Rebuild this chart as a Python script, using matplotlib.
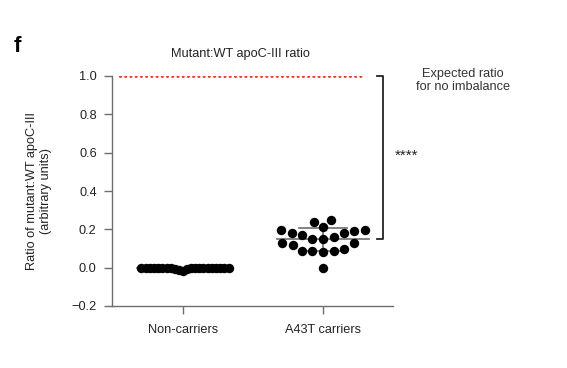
import numpy as np
import matplotlib
matplotlib.use("Agg")
import matplotlib.pyplot as plt

plt.rcParams['font.family'] = ['Liberation Sans', 'DejaVu Sans']

categories = ["Non-carriers", "A43T carriers"]
non_carriers = [0.0, 0.0, 0.0, 0.0, 0.0, 0.0, 0.0, 0.0, 0.0, 0.0, 0.0,
                0.0, 0.0, 0.0, 0.0, 0.0, -0.005, -0.008, -0.012, -0.015,
                0.0, 0.0]
a43t = [0.249, 0.237, 0.198, 0.19, 0.179, 0.158, 0.15, 0.15, 0.172, 0.179,
        0.198, 0.21, 0.127, 0.12, 0.089, 0.089, 0.08, 0.089, 0.10, 0.127, 0.0]
yticks = [-0.2, 0.0, 0.2, 0.4, 0.6, 0.8, 1.0]
expected_ratio = 1.0

FS = 9.2
fig = plt.figure(figsize=(5.67, 3.68), dpi=100)
ax = fig.add_axes([112/567, 1-306/368, (393-112)/567, (306-76)/368])
ax.set_xlim(-0.507, 1.5)
ax.set_ylim(-0.2, 1.0)

def swarm(values, center, d_px):
    vals = np.asarray(values, float)
    order = np.argsort(vals, kind="stable")
    ypx = ax.transData.transform(np.column_stack([np.zeros_like(vals), vals]))[:, 1]
    xscale = ax.transData.transform([[1, 0]])[0, 0] - ax.transData.transform([[0, 0]])[0, 0]
    placed = []
    xs = np.zeros_like(vals)
    for i in order:
        y = ypx[i]
        cands = [0.0]
        for (px, py) in placed:
            dy = abs(py - y)
            if dy < d_px:
                dx = np.sqrt(d_px**2 - dy**2)
                cands += [px + dx, px - dx]
        cands.sort(key=lambda c: (abs(c), c))
        for c in cands:
            ok = all((c - px)**2 + (y - py)**2 >= d_px**2 - 1e-6 for (px, py) in placed)
            if ok:
                break
        placed.append((c, y))
        xs[i] = center + c / xscale
    return xs

gray = "#6e6e6e"
for k, (vals, d) in enumerate([(non_carriers, 4.2), (a43t, 10.8)]):
    xs = swarm(vals, k, d)
    ax.scatter(xs, vals, s=46, color="black", zorder=3, linewidths=0)
    m = np.mean(vals)
    sd = np.std(vals, ddof=1)
    ax.plot([k - 0.33, k + 0.33], [m, m], color=gray, lw=1.2, zorder=2)
    if k == 1:
        ax.plot([k, k], [m - sd, m + sd], color=gray, lw=1.2, zorder=2)
        ax.plot([k - 0.17, k + 0.17], [m + sd, m + sd], color=gray, lw=1.2, zorder=2)
        ax.plot([k - 0.17, k + 0.17], [m - sd, m - sd], color=gray, lw=1.2, zorder=2)
        mean_a = m

ax.plot([-0.45, 1.286], [expected_ratio, expected_ratio], color="#e3402a",
        lw=2.2, linestyle=(0, (0.01, 1.7)), dash_capstyle="round", zorder=2)

# significance bracket
bx = 1.43
ax.plot([bx - 0.045, bx, bx, bx - 0.045], [expected_ratio, expected_ratio, mean_a, mean_a],
        color="#222222", lw=1.3, clip_on=False)
ax.text(1.6, 0.585, "****", ha="center", va="center", fontsize=11, color="#222222")
ax.text(2.0, 0.975, "Expected ratio\nfor no imbalance", ha="center", va="center",
        fontsize=FS, color="#333333", linespacing=1.15)

for s in ["top", "right"]:
    ax.spines[s].set_visible(False)
for s in ["left", "bottom"]:
    ax.spines[s].set_color(gray)
    ax.spines[s].set_linewidth(1.0)
ax.set_xticks([0, 1])
ax.set_xticklabels(categories, fontsize=FS, color="#222222")
ax.set_yticks(yticks)
ax.set_yticklabels([f"{t:.1f}".replace("-", "\u2212") for t in yticks], fontsize=FS, color="#222222")
ax.tick_params(axis="both", colors=gray, labelcolor="#222222", length=6, width=1.0)
ax.tick_params(axis="x", pad=7)
ax.tick_params(axis="y", pad=5)

ax.set_ylabel("Ratio of mutant:WT apoC-III\n(arbitrary units)", fontsize=FS,
              color="#222222", labelpad=14, linespacing=1.2)
fig.text(240/567, 1-54/368, "Mutant:WT apoC-III ratio", ha="center", va="center",
         fontsize=FS, color="#222222")
fig.text(17/567, 1-47/368, "f", ha="center", va="center", fontsize=16,
         fontweight="bold", color="black")

fig.savefig("out.png", dpi=100)
